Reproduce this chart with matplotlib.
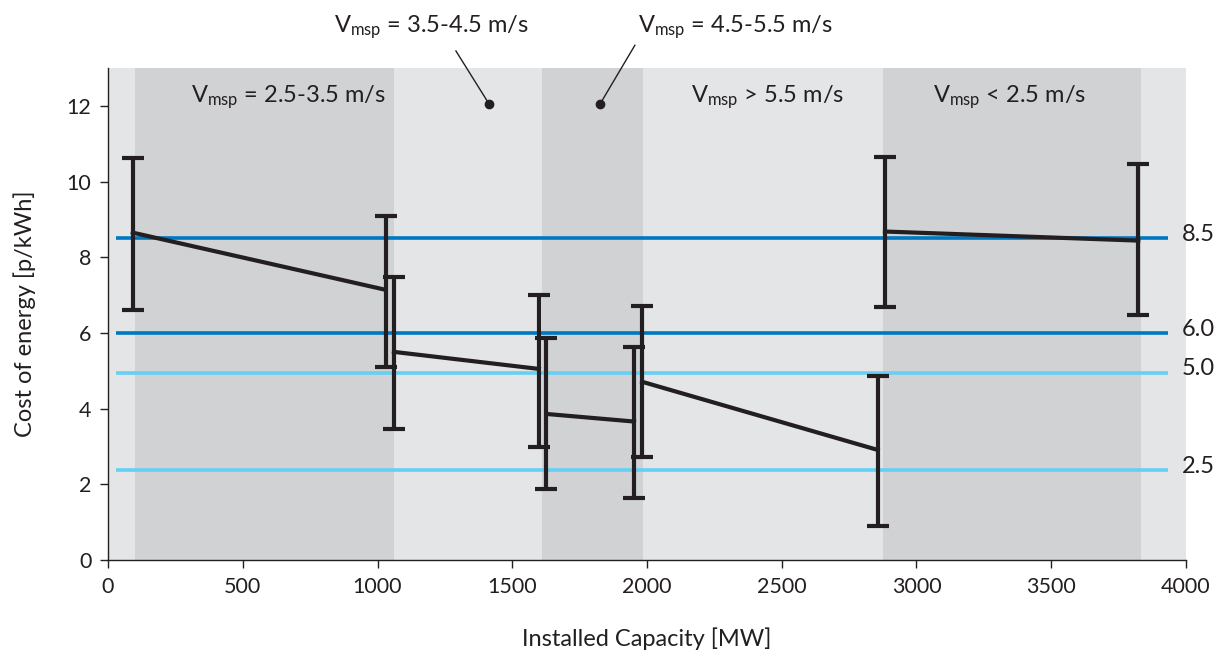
import numpy as np
import matplotlib
matplotlib.use("Agg")
import matplotlib.pyplot as plt

plt.rcParams['font.family'] = ['Lato', 'DejaVu Sans']
plt.rcParams['mathtext.fontset'] = 'custom'
plt.rcParams['mathtext.rm'] = 'Lato'

# capacity groups, each drawn as a segment between its first and last site
seg_x = [[92, 1030], [1061, 1599], [1627, 1952], [1982, 2856], [2883, 3823]]
seg_y = [[8.65, 7.14], [5.50, 5.05], [3.86, 3.66], [4.71, 2.91], [8.68, 8.44]]
seg_hi = [[10.61, 9.10], [7.48, 6.99], [5.86, 5.64], [6.70, 4.85], [10.66, 10.47]]
seg_lo = [[6.61, 5.10], [3.46, 2.98], [1.87, 1.65], [2.71, 0.90], [6.68, 6.48]]

# wind speed bands (darker shading)
bands = [(100, 1060), (1610, 1985), (2876, 3833)]
band_labels = [(668, r"$\mathrm{V_{msp}}$ = 2.5-3.5 m/s"),
               (2449, r"$\mathrm{V_{msp}}$ > 5.5 m/s"),
               (3347, r"$\mathrm{V_{msp}}$ < 2.5 m/s")]
# dot x, line end (x, y), text x
callouts = [(1414, 1291, 13.45, 1202, r"$\mathrm{V_{msp}}$ = 3.5-4.5 m/s"),
            (1826, 1955, 13.6, 2327, r"$\mathrm{V_{msp}}$ = 4.5-5.5 m/s")]

# reference cost levels
ref_levels = [8.5, 6.0, 4.95, 2.38]
ref_labels = ["8.5", "6.0", "5.0", "2.5"]
ref_colors = ["#0077c1", "#0077c1", "#66cff5", "#66cff5"]

fs = 17

fig = plt.figure(figsize=(12.22, 6.52), dpi=100)
ax = fig.add_axes([0.0884, 0.141, 0.8821, 0.7547])
ax.set_facecolor("#e4e5e7")
ax.set_xlim(0, 4000)
ax.set_ylim(0, 13)

for x0, x1 in bands:
    ax.axvspan(x0, x1, color="#d1d2d4", lw=0, zorder=0)

for lvl, lab, col in zip(ref_levels, ref_labels, ref_colors):
    ax.plot([30, 3935], [lvl, lvl], color=col, lw=2.6, zorder=2, solid_capstyle='butt')
    ax.text(3985, lvl + 0.1, lab, fontsize=fs, va="center", ha="left", color="#231f20",
            clip_on=False)

for xs, ys, hi, lo in zip(seg_x, seg_y, seg_hi, seg_lo):
    ys = np.array(ys)
    err = [ys - np.array(lo), np.array(hi) - ys]
    ax.errorbar(xs, ys, yerr=err, color="#231f20", lw=3, elinewidth=3, capsize=8,
                capthick=3, zorder=3)

for x, lab in band_labels:
    ax.text(x, 12.24, lab, fontsize=fs, ha="center", va="center", color="#231f20")

for xd, xl, yl, xt, lab in callouts:
    ax.plot([xd], [12.05], "o", color="#231f20", ms=6, zorder=4)
    ax.plot([xd, xl], [12.05, yl], color="#231f20", lw=1, clip_on=False, zorder=4)
    ax.text(xt, 14.09, lab, fontsize=fs, ha="center", va="center", color="#231f20",
            clip_on=False)

ax.spines["top"].set_visible(False)
ax.spines["right"].set_visible(False)
for s in ("left", "bottom"):
    ax.spines[s].set_color("#231f20")
    ax.spines[s].set_linewidth(1)
ax.set_xticks(np.arange(0, 4001, 500))
ax.set_yticks(np.arange(0, 13, 2))
ax.tick_params(labelsize=15.5, colors="#231f20", length=6, width=1, pad=6)
ax.set_xlabel("Installed Capacity [MW]", fontsize=fs, labelpad=22, color="#231f20")
ax.set_ylabel("Cost of energy [p/kWh]", fontsize=fs, labelpad=22, color="#231f20")

fig.savefig("out.png", dpi=100)
